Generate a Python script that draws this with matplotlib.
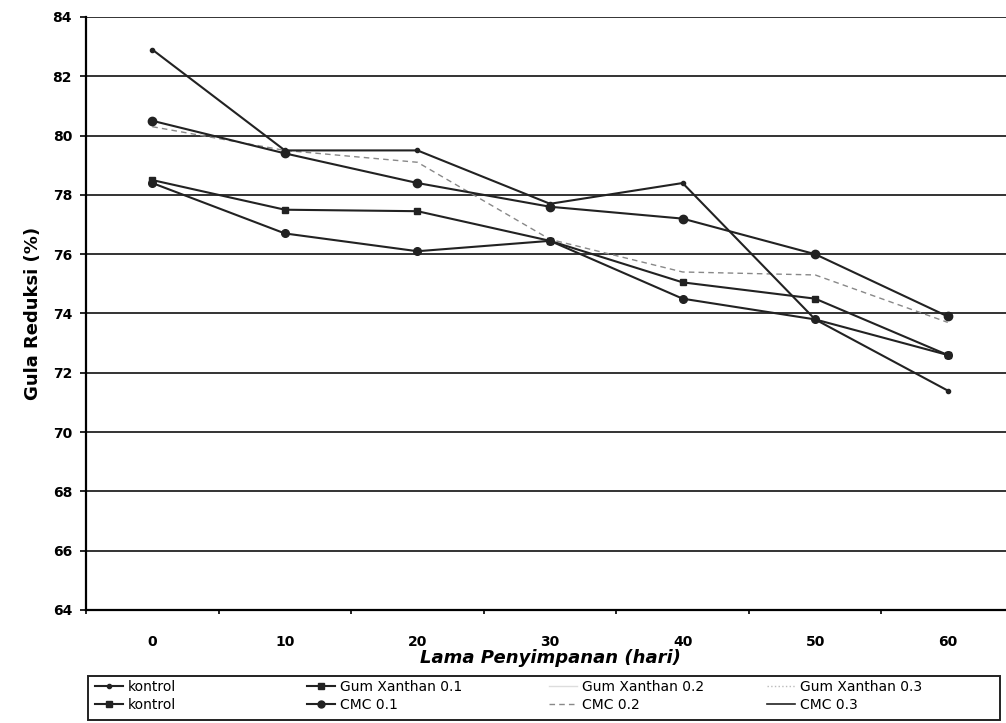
import matplotlib
matplotlib.use("Agg")
import matplotlib.pyplot as plt
from matplotlib.lines import Line2D
from matplotlib.patches import Rectangle

# storage time (days) and reducing sugar (%)
days = [0, 10, 20, 30, 40, 50, 60]
kontrol_a = [82.9, 79.5, 79.5, 77.7, 78.4, 73.8, 71.4]
cmc_01 = [80.5, 79.4, 78.4, 77.6, 77.2, 76.0, 73.9]
cmc_02 = [80.3, 79.5, 79.1, 76.5, 75.4, 75.3, 73.7]
gx_01 = [78.5, 77.5, 77.45, 76.45, 75.05, 74.5, 72.6]
kontrol_b = [78.4, 76.7, 76.1, 76.45, 74.5, 73.8, 72.6]

y_ticks = [64, 66, 68, 70, 72, 74, 76, 78, 80, 82, 84]

fig = plt.figure(figsize=(10.06, 7.23), dpi=100)
ax = fig.add_axes([0.0855, 0.1563, 0.9225, 0.8202])

x = list(range(len(days)))

# horizontal gridlines like the excel chart
for v in y_ticks:
    ax.axhline(v, color='#333333', lw=1.4, zorder=1)

ax.plot(x, kontrol_a, '-', color='#222222', lw=1.5, marker='o', ms=3, zorder=3)
ax.plot(x, cmc_01, '-', color='#222222', lw=1.5, marker='o', ms=6, zorder=3)
ax.plot(x, cmc_02, '--', color='#888888', lw=1.0, dashes=(4, 3), zorder=2)
ax.plot(x, gx_01, '-', color='#222222', lw=1.5, marker='s', ms=5, zorder=3)
ax.plot(x, kontrol_b, '-', color='#222222', lw=1.5, marker='o', ms=5.5, zorder=3)

ax.set_xlim(-0.5, 6.5)
ax.set_ylim(64, 84)
ax.set_yticks(y_ticks)
ax.set_yticklabels([str(v) for v in y_ticks], fontweight='bold', fontsize=10)
ax.set_xticks(x)
ax.set_xticklabels([str(d) for d in days], fontweight='bold', fontsize=10)
ax.tick_params(axis='x', length=0, pad=18)
ax.tick_params(axis='y', length=4, width=1.2, direction='out', pad=6)
ax.set_xticks([i + 0.5 for i in range(-1, 7)], minor=True)
ax.tick_params(axis='x', which='minor', length=3, width=1.2, direction='out')

for s in ['top', 'right']:
    ax.spines[s].set_visible(False)
ax.spines['left'].set_linewidth(1.6)
ax.spines['bottom'].set_linewidth(1.6)

ax.set_ylabel('Gula Reduksi (%)', fontsize=13, fontweight='bold', labelpad=8)
ax.set_xlabel('Lama Penyimpanan (hari)', fontsize=13, fontweight='bold',
              style='italic', labelpad=0)

# legend: frame + four columns placed like the excel legend
fig.patches.append(Rectangle((88 / 1006, 3 / 723), 912 / 1006, 44 / 723,
                             transform=fig.transFigure, fill=False,
                             edgecolor='#222222', lw=1.4))

columns = [
    ([Line2D([], [], color='#222222', lw=1.5, marker='o', ms=3),
      Line2D([], [], color='#222222', lw=1.5, marker='s', ms=4)],
     ['kontrol', 'kontrol'], 92),
    ([Line2D([], [], color='#222222', lw=1.5, marker='s', ms=5),
      Line2D([], [], color='#222222', lw=1.5, marker='o', ms=5)],
     ['Gum Xanthan 0.1', 'CMC 0.1'], 304),
    ([Line2D([], [], color='#dddddd', lw=1.0),
      Line2D([], [], color='#888888', lw=1.0, ls='--', dashes=(4, 3))],
     ['Gum Xanthan 0.2', 'CMC 0.2'], 546),
    ([Line2D([], [], color='#bbbbbb', lw=1.0, ls=':'),
      Line2D([], [], color='#222222', lw=1.2)],
     ['Gum Xanthan 0.3', 'CMC 0.3'], 764),
]
for handles, labels, left in columns:
    leg = fig.legend(handles, labels, loc='lower left',
                     bbox_to_anchor=(left / 1006, 8 / 723),
                     frameon=False, fontsize=10, handlelength=2.0,
                     handletextpad=0.4, labelspacing=0.3, borderpad=0.2,
                     borderaxespad=0)

fig.savefig('out.png', dpi=100)
